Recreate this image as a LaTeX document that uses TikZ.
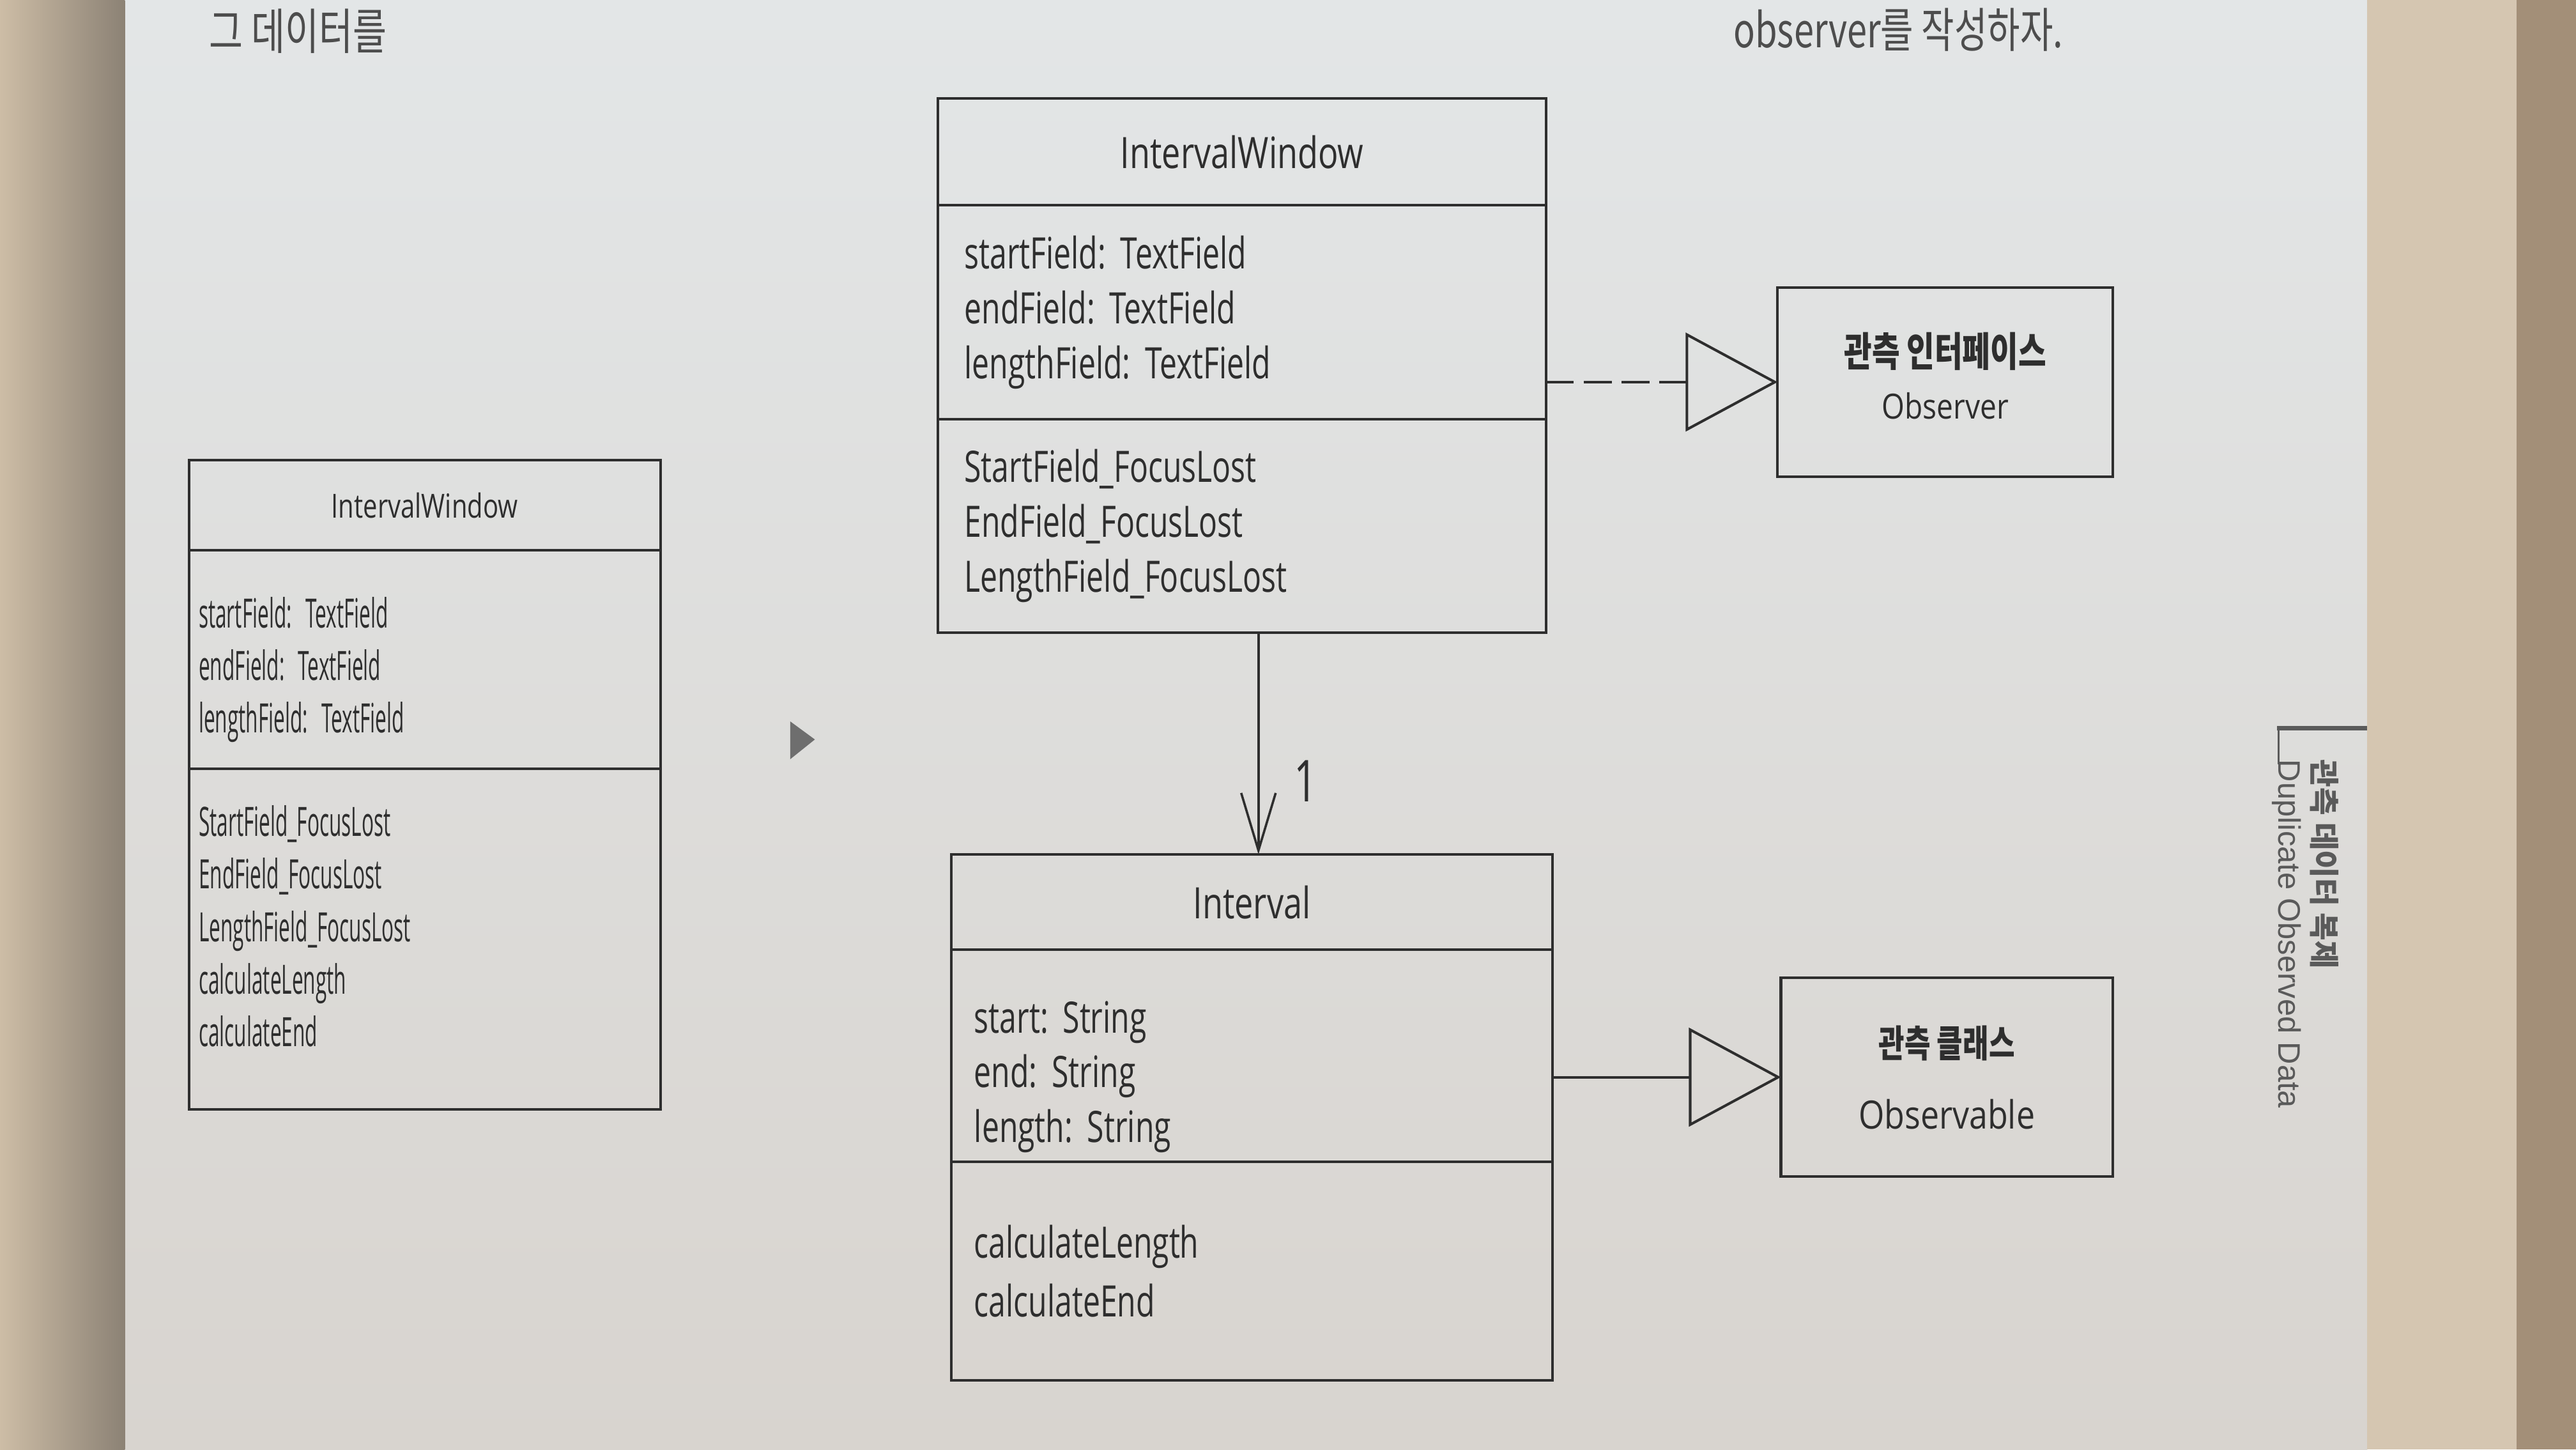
\documentclass[tikz,border=0pt]{standalone}
\usepackage{fontspec}
\setmainfont{Open Sans}
\newfontfamily\titlefont[FakeStretch=0.77, WordSpace=0.77]{Open Sans}
\newfontfamily\memberfont[FakeStretch=0.71, WordSpace=0.71]{Open Sans}
\newfontfamily\slimfont[FakeStretch=0.50, WordSpace=0.5]{Open Sans}
\newfontfamily\notefont[FakeStretch=0.85, WordSpace=0.85]{Open Sans}
\newfontfamily\krfont[FakeStretch=0.75]{Noto Sans CJK KR}
\newfontfamily\krplain{Noto Sans CJK KR}
\newfontfamily\tabfont{Liberation Sans}
\usetikzlibrary{positioning, arrows.meta}
\frenchspacing

\definecolor{inkcol}{HTML}{2E2E2E}
\definecolor{pagetop}{HTML}{E3E6E7}
\definecolor{pagebot}{HTML}{D8D4CF}
\definecolor{gutterlight}{HTML}{CDBDA6}
\definecolor{gutterdark}{HTML}{8C8275}
\definecolor{edgecol}{HTML}{D5C6B1}
\definecolor{deskcol}{HTML}{A38F78}
\definecolor{markgray}{HTML}{6E6E6E}
\definecolor{tabcol}{HTML}{5A5A5A}

% extra room above the first / below the last member line
\newcommand{\padtop}[1]{\rule{0pt}{#1}}
\newcommand{\padbot}[1]{\rule[-#1]{0pt}{#1}}

\begin{document}
\begin{tikzpicture}[
    every node/.style={text=inkcol},
    umlbox/.style={draw=inkcol, line width=0.9pt, inner ysep=0pt, outer sep=0pt},
    titlebox/.style={umlbox, align=center},
    memberbox/.style={umlbox, align=left},
    notebox/.style={draw=inkcol, line width=0.9pt, align=center, outer sep=0pt},
    assoc/.style={draw=inkcol, line width=0.8pt, -{Straight Barb[length=0.7cm, width=0.42cm]}},
    realize/.style={draw=inkcol, line width=0.9pt, dash pattern=on 0.34cm off 0.12cm, -{Triangle[open, length=1.12cm, width=1.2cm]}},
    inherit/.style={draw=inkcol, line width=0.9pt, -{Triangle[open, length=1.12cm, width=1.2cm]}}
]
    % Page
    \clip (0,0) rectangle (31.36,-17.64);
    \shade[top color=pagetop, bottom color=pagebot] (1.5,0) rectangle (28.82,-17.64);
    \shade[left color=gutterlight, right color=gutterdark] (0,0) rectangle (1.52,-17.64);
    \fill[edgecol] (28.82,0) rectangle (30.64,-17.64);
    \fill[deskcol] (30.64,0) rectangle (31.36,-17.64);

    % Running text at the top of the page
    \node[anchor=base west, font=\krfont\fontsize{17}{17}\selectfont, text=inkcol!85] (topleft) at (2.42,-0.6) {그 데이터를};
    \node[anchor=base east, font=\krfont\fontsize{16.5}{17}\selectfont, text=inkcol!85] (topright) at (25.24,-0.58) {observer를 작성하자.};

    % Old IntervalWindow
    \node[titlebox, minimum width=5.74cm, minimum height=1.1cm, font=\titlefont\fontsize{11.5}{14}\selectfont] (oldtitle) at (5.17,-6.15) {IntervalWindow};
    \node[memberbox, below=0pt of oldtitle, minimum height=2.66cm, text width=5.5cm, inner xsep=0.12cm, font=\slimfont\fontsize{14}{18.2}\selectfont] (oldattr) {\padtop{0.62cm}startField: TextField\\endField: TextField\\lengthField: TextField};
    \node[memberbox, below=0pt of oldattr, minimum height=4.14cm, text width=5.5cm, inner xsep=0.12cm, font=\slimfont\fontsize{14}{18.2}\selectfont] (oldmeth) {StartField\_FocusLost\\EndField\_FocusLost\\LengthField\_FocusLost\\calculateLength\\calculateEnd\padbot{0.32cm}};

    % Becomes marker
    \fill[markgray] (9.62,-8.78) -- (9.92,-9.0) -- (9.62,-9.24) -- cycle;

    % New IntervalWindow
    \node[titlebox, minimum width=7.4cm, minimum height=1.3cm, font=\titlefont\fontsize{15}{18}\selectfont] (iwtitle) at (15.12,-1.85) {IntervalWindow};
    \node[memberbox, below=0pt of iwtitle, minimum height=2.6cm, text width=6.76cm, inner xsep=0.32cm, font=\memberfont\fontsize{15}{19}\selectfont] (iwattr) {startField: TextField\\endField: TextField\\lengthField: TextField};
    \node[memberbox, below=0pt of iwattr, minimum height=2.6cm, text width=6.76cm, inner xsep=0.32cm, font=\memberfont\fontsize{15}{19}\selectfont] (iwmeth) {StartField\_FocusLost\\EndField\_FocusLost\\LengthField\_FocusLost};

    % Interval
    \node[titlebox, minimum width=7.32cm, minimum height=1.16cm, font=\titlefont\fontsize{15}{18}\selectfont] (ivtitle) at (15.24,-10.98) {Interval};
    \node[memberbox, below=0pt of ivtitle, minimum height=2.58cm, text width=6.76cm, inner xsep=0.28cm, font=\memberfont\fontsize{15}{19}\selectfont] (ivattr) {\padtop{0.9cm}start: String\\end: String\\length: String};
    \node[memberbox, below=0pt of ivattr, minimum height=2.66cm, text width=6.76cm, inner xsep=0.28cm, font=\memberfont\fontsize{15}{20.5}\selectfont] (ivmeth) {calculateLength\\calculateEnd};

    % Observer and Observable
    \node[notebox, minimum width=4.08cm, minimum height=2.3cm] (obs) at (23.68,-4.65) {{\krfont\bfseries\fontsize{14}{16}\selectfont 관측 인터페이스}\\[0.22cm]{\notefont\fontsize{12}{14}\selectfont Observer\padbot{0.16cm}}};
    \node[notebox, minimum width=4.04cm, minimum height=2.42cm] (obl) at (23.70,-13.11) {{\krfont\bfseries\fontsize{13}{16}\selectfont 관측 클래스}\\[0.45cm]{\notefont\fontsize{13.5}{15}\selectfont Observable}};

    % Arrows
    \draw[assoc] ([xshift=2mm]iwmeth.south) -- ([xshift=2mm]iwmeth.south |- ivtitle.north) node[pos=0.67, right=0.3cm, font=\memberfont\fontsize{20}{24}\selectfont] (mult) {1};
    \draw[realize] (iwattr.east |- obs.west) -- (obs.west);
    \draw[inherit] (ivattr.east |- obl.west) -- (obl.west);

    % Side tab
    \draw[line width=1.6pt, tabcol] (27.72,-8.86) -- (28.82,-8.86);
    \draw[line width=0.6pt, tabcol] (27.74,-8.86) -- (27.74,-9.3);
    \node[rotate=-90, anchor=west, inner sep=0pt, font=\krplain\bfseries\fontsize{10.5}{12}\selectfont, text=tabcol] (tabkr) at (28.3,-9.24) {관측 데이터 복제};
    \node[rotate=-90, anchor=west, inner sep=0pt, font=\tabfont\fontsize{10.8}{12}\selectfont, text=tabcol] (taben) at (27.84,-9.24) {Duplicate Observed Data};
\end{tikzpicture}
\end{document}
